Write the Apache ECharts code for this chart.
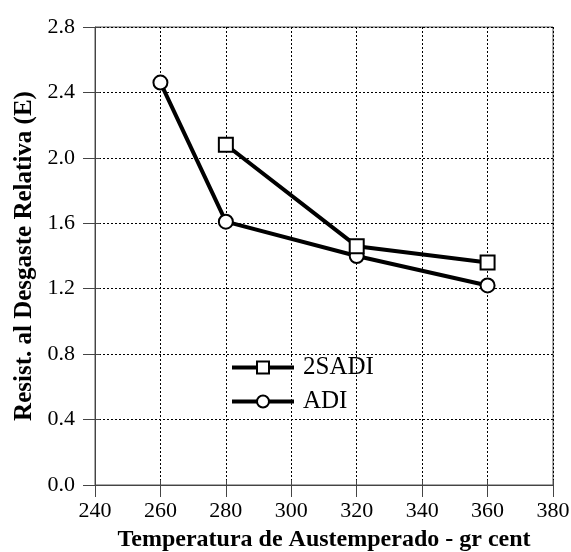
<!DOCTYPE html>
<html>
<head>
<meta charset="utf-8">
<script src="https://cdn.jsdelivr.net/npm/echarts@6/dist/echarts.min.js"></script>
<style>
  html, body { margin: 0; padding: 0; background: #fff; }
  #chart { width: 571px; height: 552px; }
</style>
</head>
<body>
<div id="chart"></div>
<script>
var temps2SADI = [280, 320, 360]
var values2SADI = [2.08, 1.46, 1.36]
var tempsADI = [260, 280, 320, 360]
var valuesADI = [2.46, 1.61, 1.40, 1.22]
var seriesNames = ['2SADI', 'ADI']

var font = 'Liberation Serif, Times New Roman, serif'

function pairs(xs, ys) {
  return xs.map(function (x, i) { return [x, ys[i]] })
}

var myChart = echarts.init(document.getElementById('chart'))
var option = {
  animation: false,
  grid: {
    left: 95,
    right: 18,
    top: 27,
    bottom: 67,
    outerBoundsMode: 'none',
    show: true,
    borderColor: '#555',
    borderWidth: 1
  },
  legend: {
    orient: 'vertical',
    left: 230,
    top: 355,
    padding: 0,
    itemWidth: 62,
    itemHeight: 15,
    itemGap: 9,
    data: seriesNames,
    lineStyle: { width: 4, color: '#000' },
    itemStyle: { borderWidth: 3, borderColor: '#000' },
    textStyle: { fontFamily: font, fontSize: 25, color: '#000', padding: [0, 0, 0, 4] }
  },
  xAxis: [{
    type: 'value',
    min: 240,
    max: 380,
    interval: 20,
    name: 'Temperatura de Austemperado - gr cent',
    nameLocation: 'middle',
    nameGap: 43,
    nameTextStyle: { fontFamily: font, fontSize: 24, fontWeight: 'bold', color: '#000' },
    axisLine: { lineStyle: { color: '#444', width: 1 } },
    axisTick: { show: true, length: 12, lineStyle: { color: '#444' } },
    axisLabel: { fontFamily: font, fontSize: 22, color: '#000', margin: 15 },
    splitLine: { show: true, lineStyle: { color: '#000', type: [2, 2], width: 1 } }
  }, {
    type: 'value',
    min: 240,
    max: 380,
    interval: 20,
    position: 'bottom',
    axisLine: { show: false },
    axisTick: { show: true, inside: true, length: 5, lineStyle: { color: '#444' } },
    axisLabel: { show: false },
    splitLine: { show: false }
  }],
  yAxis: [{
    type: 'value',
    min: 0,
    max: 2.8,
    interval: 0.4,
    name: 'Resist. al Desgaste Relativa (E)',
    nameLocation: 'middle',
    nameGap: 58,
    nameTextStyle: { fontFamily: font, fontSize: 25, fontWeight: 'bold', color: '#000' },
    axisLine: { show: true, lineStyle: { color: '#444', width: 1 } },
    axisTick: { show: true, length: 12, lineStyle: { color: '#444' } },
    axisLabel: {
      fontFamily: font, fontSize: 22, color: '#000', margin: 20,
      formatter: function (v) { return v.toFixed(1) }
    },
    splitLine: { show: true, lineStyle: { color: '#000', type: [2, 2], width: 1 } }
  }, {
    type: 'value',
    min: 0,
    max: 2.8,
    interval: 0.4,
    position: 'left',
    axisLine: { show: false },
    axisTick: { show: true, inside: true, length: 5, lineStyle: { color: '#444' } },
    axisLabel: { show: false },
    splitLine: { show: false }
  }],
  series: [{
    name: 'ADI',
    type: 'line',
    data: pairs(tempsADI, valuesADI),
    symbol: 'emptyCircle',
    symbolSize: 14,
    lineStyle: { color: '#000', width: 4 },
    itemStyle: { color: '#000', borderColor: '#000', borderWidth: 3 },
    z: 2
  }, {
    name: '2SADI',
    type: 'line',
    data: pairs(temps2SADI, values2SADI),
    symbol: 'emptyRect',
    symbolSize: 14,
    lineStyle: { color: '#000', width: 4 },
    itemStyle: { color: '#000', borderColor: '#000', borderWidth: 3 },
    z: 3
  }]
}
myChart.setOption(option)
</script>
</body>
</html>
